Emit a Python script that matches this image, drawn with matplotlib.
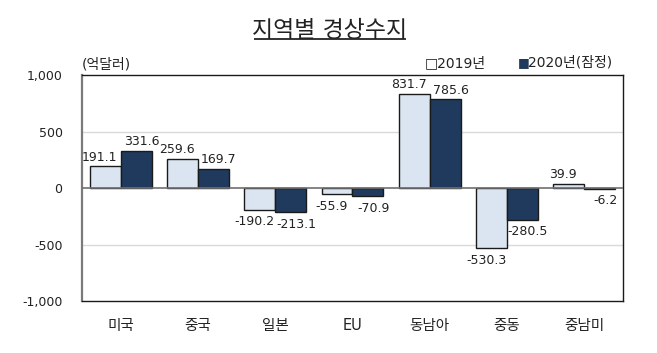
import numpy as np
import matplotlib.pyplot as plt

plt.rcParams['font.family'] = ['DejaVu Sans', 'Noto Sans CJK KR']

regions = ['미국', '중국', '일본', 'EU', '동남아', '중동', '중남미']
v2019 = [191.1, 259.6, -190.2, -55.9, 831.7, -530.3, 39.9]
v2020 = [331.6, 169.7, -213.1, -70.9, 785.6, -280.5, -6.2]
yticks = [-1000, -500, 0, 500, 1000]
ytick_labels = ['-1,000', '-500', '0', '500', '1,000']

c2019 = '#dbe5f1'
c2020 = '#203a5e'
txt = '#222222'

fig = plt.figure(figsize=(6.57, 3.53), dpi=100)
ax = fig.add_axes([0.1248, 0.1473, 0.8234, 0.640])

x = np.arange(len(regions))
w = 0.4
b1 = ax.bar(x - w / 2, v2019, w, color=c2019, edgecolor='#1a1a1a', linewidth=1, zorder=3)
b2 = ax.bar(x + w / 2, v2020, w, color=c2020, edgecolor='#1a1a1a', linewidth=1, zorder=3)

# excel-style labels: 2019 nudged left, 2020 nudged right
for bars, vals, dx in ((b1, v2019, -4), (b2, v2020, 4)):
    for rect, v in zip(bars, vals):
        cx = rect.get_x() + rect.get_width() / 2
        if v >= 0:
            ax.annotate(f'{v:.1f}', (cx, v), xytext=(dx, 2), textcoords='offset points',
                        ha='center', va='bottom', fontsize=9, color=txt)
        else:
            ax.annotate(f'{v:.1f}', (cx, v), xytext=(dx, -4), textcoords='offset points',
                        ha='center', va='top', fontsize=9, color=txt)

ax.set_xlim(-0.5, len(regions) - 0.5)
ax.set_ylim(-1000, 1000)
ax.set_yticks(yticks)
ax.set_yticklabels(ytick_labels, fontsize=9, color=txt)
ax.set_xticks(x)
ax.set_xticklabels(regions, fontsize=10.5, color=txt)
ax.tick_params(length=0)
ax.tick_params(axis='y', pad=14)
ax.tick_params(axis='x', pad=12)

for y in (500, -500):
    ax.axhline(y, color='#d9d9d9', linewidth=1, zorder=1)
ax.axhline(0, color='#6f6f6f', linewidth=1.2, zorder=4)

for s in ax.spines.values():
    s.set_color('#1a1a1a')
    s.set_linewidth(1)
ax.spines['left'].set_color('#7a7a7a')
ax.spines['left'].set_linewidth(1.6)

fig.text(0.502, 0.915, '지역별 경상수지', ha='center', va='center', fontsize=16.5, color=txt)
fig.add_artist(plt.Line2D([0.388, 0.616], [0.889, 0.889], color='#333333', linewidth=1.4))

fig.text(0.125, 0.816, '(억달러)', ha='left', va='center', fontsize=10, color=txt)
fig.text(0.647, 0.822, '□2019년', ha='left', va='center', fontsize=10, color=txt)
fig.text(0.788, 0.822, '■', ha='left', va='center', fontsize=9, color=c2020)
fig.text(0.804, 0.822, '2020년(잠정)', ha='left', va='center', fontsize=10, color=txt)

fig.savefig('out.png', dpi=100)
